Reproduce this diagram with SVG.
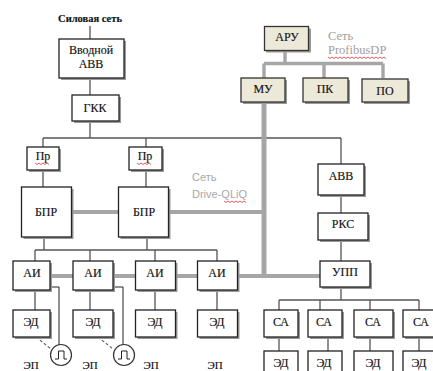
<svg xmlns="http://www.w3.org/2000/svg" width="433" height="371" viewBox="0 0 433 371">
<style>
text{font-family:"Liberation Serif","Times New Roman",serif;font-size:12px;fill:#111;text-anchor:middle;stroke:#111;stroke-width:.15}
.box{fill:#fff;stroke:#222;stroke-width:1.3}
.beige{fill:#ece9d8;stroke:#333;stroke-width:1.3}
.sh{fill:#999;stroke:none}
.thin{fill:none;stroke:#555;stroke-width:1.3}
.dark{fill:none;stroke:#222;stroke-width:1}
.thick{fill:none;stroke:#a6a6a6;stroke-width:3.4}
.thick2{fill:none;stroke:#a6a6a6;stroke-width:4}
.thick3{fill:none;stroke:#a6a6a6;stroke-width:5}
.dash{fill:none;stroke:#666;stroke-width:1.2;stroke-dasharray:3 2}
.wavy{fill:none;stroke:#e03030;stroke-width:.8}
text.net{fill:#a0a0a0;stroke:none;text-anchor:start;font-size:12.500px}
text.netsans{fill:#a8a8a8;stroke:none;text-anchor:start;font-family:"Liberation Sans",Arial,sans-serif;font-size:11px}
text.ep{font-size:11px}
.pulse{fill:#fff;stroke:#333;stroke-width:1.2}
</style>
<rect width="433" height="371" fill="#fff"/>
<g id="connectors">
<path class="thin" d="M90 26V39M90 78V95M90 121V138M43 138H264M43 138V147M146 138V147M43 170V187M146 170V187"/>
<path class="thin" d="M264 138H341"/><path class="dark" d="M341 138V164"/>
<path class="thin" d="M341 195V213M341 240V261M341 287V300M279 300H419M279 300V310M320 300V310M370 300V310M419 300V310"/>
<path class="thin" d="M279 337V351M328 337V351M370 337V351M419 337V351"/>
<path class="thin" d="M44 237V250M147 237V250M35 250H217M35 250V261M90 250V261M155 250V261M217 250V261"/>
<path class="thin" d="M35 290V310M90 290V310M155 290V310M217 290V310"/>
<path class="dark" d="M50 287H59V345M113 287H123V345"/>
<path class="dash" d="M36 337L51 349M98 337L113 349"/>
<path class="thick" d="M285 50V63.500M264 63.500H383M264 63.500V78M324 63.500V78M383 63.500V78"/>
<path class="thick3" d="M264 104V276"/>
<path class="thick2" d="M71 212H118M168 212H264M50 276H73M113 276H135M175 276H197M238 276H320"/>
</g>
<g id="label-power"><text x="90" y="22" font-weight="bold" style="font-size:10.500px">Силовая сеть</text></g>
<g id="label-profibus"><text class="net" x="328" y="40">Сеть</text><text class="net" x="328" y="54">ProfibusDP</text><path class="wavy" d="M328 57l2 1.500 2-1.500 2 1.500 2-1.500 2 1.500 2-1.500 2 1.500 2-1.500 2 1.500 2-1.500 2 1.500 2-1.500 2 1.500 2-1.500 2 1.500 2-1.500 2 1.500 2-1.500 2 1.500 2-1.500 2 1.500 2-1.500 2 1.500 2-1.500 2 1.500 2-1.500 2 1.500 2-1.500 2 1.500"/></g>
<g id="label-drive"><text class="netsans" x="192" y="181">Сеть</text><text class="netsans" x="192" y="198">Drive-QLiQ</text><path class="wavy" d="M224 201l2 1.500 2-1.500 2 1.500 2-1.500 2 1.500 2-1.500 2 1.500 2-1.500 2 1.500 2-1.500 2 1.500"/></g>
<g id="vvod"><rect class="sh" x="61" y="41" width="65" height="39"/><rect class="box" x="59" y="39" width="65" height="39"/><text x="91" y="54">Вводной</text><text x="91" y="68">АВВ</text></g>
<g id="gkk"><rect class="sh" x="74" y="97" width="47" height="26"/><rect class="box" x="72" y="95" width="47" height="26"/><text x="95" y="112">ГКК</text></g>
<g id="pr1"><rect class="sh" x="29" y="149" width="32" height="23"/><rect class="box" x="27" y="147" width="32" height="23"/><text x="43" y="160">Пр</text><path class="wavy" d="M35 163l2 1.500 2-1.500 2 1.500 2-1.500 2 1.500 2-1.500 2 1.500"/></g>
<g id="pr2"><rect class="sh" x="131" y="149" width="33" height="23"/><rect class="box" x="129" y="147" width="33" height="23"/><text x="145" y="160">Пр</text><path class="wavy" d="M137 163l2 1.500 2-1.500 2 1.500 2-1.500 2 1.500 2-1.500 2 1.500"/></g>
<g id="bpr1"><rect class="sh" x="23.500" y="189" width="50" height="50"/><rect class="box" x="21.500" y="187" width="50" height="50"/><text x="46" y="216">БПР</text></g>
<g id="bpr2"><rect class="sh" x="120.500" y="189" width="50" height="50"/><rect class="box" x="118.500" y="187" width="50" height="50"/><text x="144" y="216">БПР</text></g>
<g id="ai1"><rect class="sh" x="15" y="263" width="37" height="29"/><rect class="box" x="13" y="261" width="37" height="29"/><text x="32" y="277">АИ</text></g>
<g id="ai2"><rect class="sh" x="75" y="263" width="40" height="29"/><rect class="box" x="73" y="261" width="40" height="29"/><text x="93" y="277">АИ</text></g>
<g id="ai3"><rect class="sh" x="137.500" y="263" width="40" height="29"/><rect class="box" x="135.500" y="261" width="40" height="29"/><text x="155" y="277">АИ</text></g>
<g id="ai4"><rect class="sh" x="199.500" y="263" width="40" height="29"/><rect class="box" x="197.500" y="261" width="40" height="29"/><text x="217" y="277">АИ</text></g>
<g id="ed1"><rect class="sh" x="15" y="312" width="37" height="27"/><rect class="box" x="13" y="310" width="37" height="27"/><text x="31" y="326">ЭД</text></g>
<g id="ed2"><rect class="sh" x="75" y="312" width="40" height="27"/><rect class="box" x="73" y="310" width="40" height="27"/><text x="93" y="326">ЭД</text></g>
<g id="ed3"><rect class="sh" x="137.500" y="312" width="40" height="27"/><rect class="box" x="135.500" y="310" width="40" height="27"/><text x="155" y="326">ЭД</text></g>
<g id="ed4"><rect class="sh" x="199.500" y="312" width="40" height="27"/><rect class="box" x="197.500" y="310" width="40" height="27"/><text x="217" y="326">ЭД</text></g>
<g id="enc1"><circle class="pulse" cx="61" cy="355" r="10.500"/><path class="dark" d="M55 359H58.500V351H64V359H67"/></g>
<g id="enc2"><circle class="pulse" cx="124" cy="355" r="10.500"/><path class="dark" d="M118 359H121.500V351H127V359H130"/></g>
<g id="ep-labels"><text class="ep" x="31" y="369">ЭП</text><text class="ep" x="90" y="369">ЭП</text><text class="ep" x="151" y="369">ЭП</text><text class="ep" x="215" y="369">ЭП</text></g>
<g id="aru"><rect class="sh" x="266" y="28.500" width="45" height="24"/><rect class="beige" x="264.500" y="26.500" width="44" height="24"/><text x="287" y="41">АРУ</text></g>
<g id="mu"><rect class="sh" x="243" y="80" width="44" height="24"/><rect class="beige" x="241" y="78" width="44" height="24"/><text x="263" y="93">МУ</text></g>
<g id="pk"><rect class="sh" x="305" y="80" width="45" height="24"/><rect class="beige" x="303" y="78" width="45" height="24"/><text x="325" y="93">ПК</text></g>
<g id="po"><rect class="sh" x="364" y="81" width="46" height="23"/><rect class="beige" x="362" y="79" width="46" height="23"/><text x="385" y="95">ПО</text></g>
<g id="avv"><rect class="sh" x="320" y="166" width="46" height="31"/><rect class="box" x="318" y="164" width="46" height="31"/><text x="341" y="180">АВВ</text></g>
<g id="rks"><rect class="sh" x="320" y="215" width="50" height="27"/><rect class="box" x="318" y="213" width="50" height="27"/><text x="343" y="228">РКС</text></g>
<g id="upp"><rect class="sh" x="322" y="263" width="50" height="26"/><rect class="box" x="320" y="261" width="50" height="26"/><text x="345" y="276">УПП</text></g>
<g id="ca1"><rect class="sh" x="266" y="312" width="34" height="27"/><rect class="box" x="264" y="310" width="34" height="27"/><text x="281" y="326">СА</text></g>
<g id="ca2"><rect class="sh" x="310" y="312" width="34" height="27"/><rect class="box" x="308" y="310" width="34" height="27"/><text x="324" y="326">СА</text></g>
<g id="ca3"><rect class="sh" x="356" y="312" width="39" height="27"/><rect class="box" x="354" y="310" width="39" height="27"/><text x="373" y="326">СА</text></g>
<g id="ca4"><rect class="sh" x="405" y="312" width="32" height="27"/><rect class="box" x="403" y="310" width="32" height="27"/><text x="421" y="326">СА</text></g>
<g id="ed5"><rect class="box" x="264" y="351" width="34" height="24"/><text x="281" y="367">ЭД</text></g>
<g id="ed6"><rect class="box" x="308" y="351" width="34" height="24"/><text x="324" y="367">ЭД</text></g>
<g id="ed7"><rect class="box" x="354" y="351" width="39" height="24"/><text x="373" y="367">ЭД</text></g>
<g id="ed8"><rect class="box" x="403" y="351" width="32" height="24"/><text x="419" y="367">ЭД</text></g>
</svg>
